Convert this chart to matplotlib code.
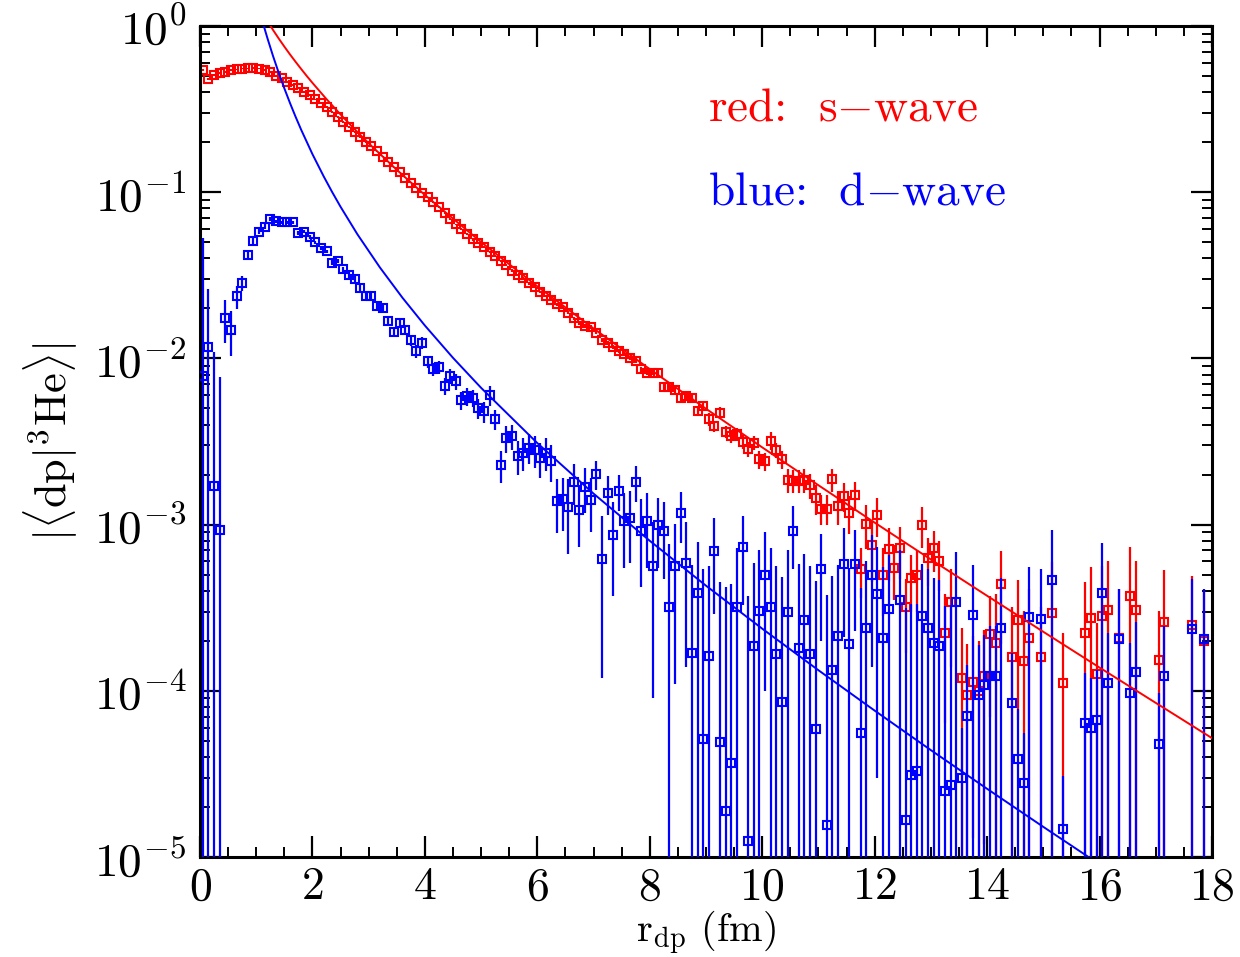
import matplotlib
matplotlib.use("Agg")
import matplotlib.pyplot as plt
import matplotlib.ticker as ticker
import numpy as np

plt.rcParams['mathtext.fontset'] = 'cm'
plt.rcParams['font.family'] = 'serif'
plt.rcParams['font.serif'] = ['cmr10', 'DejaVu Serif']
plt.rcParams['axes.formatter.use_mathtext'] = True

### s-wave (red) data
red_r = [0.05, 0.15, 0.25, 0.35, 0.45, 0.55, 0.65, 0.75, 0.85, 0.95,
         1.05, 1.15, 1.25, 1.35, 1.45, 1.55, 1.65, 1.75, 1.85, 1.95,
         2.05, 2.15, 2.25, 2.35, 2.45, 2.55, 2.65, 2.75, 2.85, 2.95,
         3.05, 3.15, 3.25, 3.35, 3.45, 3.55, 3.65, 3.75, 3.85, 3.95,
         4.05, 4.15, 4.25, 4.35, 4.45, 4.55, 4.65, 4.75, 4.85, 4.95,
         5.05, 5.15, 5.25, 5.35, 5.45, 5.55, 5.65, 5.75, 5.85, 5.95,
         6.05, 6.15, 6.25, 6.35, 6.45, 6.55, 6.65, 6.75, 6.85, 6.95,
         7.05, 7.15, 7.25, 7.35, 7.45, 7.55, 7.65, 7.75, 7.85, 7.95,
         8.05, 8.15, 8.25, 8.35, 8.45, 8.55, 8.65, 8.75, 8.85, 8.95,
         9.05, 9.15, 9.25, 9.35, 9.45, 9.55, 9.65, 9.75, 9.85, 9.95,
         10.05, 10.15, 10.25, 10.35, 10.45, 10.55, 10.65, 10.75, 10.85, 10.95,
         11.05, 11.15, 11.25, 11.35, 11.45, 11.55, 11.65, 11.75, 11.85, 11.95,
         12.05, 12.15, 12.25, 12.35, 12.45, 12.55, 12.65, 12.75, 12.85, 12.95,
         13.05, 13.15, 13.25, 13.35, 13.55, 13.65, 13.75, 13.85, 13.95, 14.05,
         14.15, 14.25, 14.45, 14.55, 14.65, 14.75, 14.95, 15.15, 15.35, 15.75,
         15.85, 15.95, 16.05, 16.15, 16.35, 16.55, 16.65, 17.05, 17.15, 17.65,
         17.85]
red_val = [0.544, 0.478, 0.507, 0.524, 0.531, 0.544, 0.549, 0.554, 0.556, 0.561,
           0.554, 0.544, 0.531, 0.500, 0.484, 0.462, 0.442, 0.422, 0.403, 0.385,
           0.362, 0.343, 0.324, 0.305, 0.284, 0.265, 0.248, 0.231, 0.216, 0.201,
           0.190, 0.176, 0.1635, 0.152, 0.1413, 0.1316, 0.1226, 0.1143, 0.1066, 0.0996,
           0.0930, 0.0870, 0.0813, 0.0752, 0.0690, 0.0640, 0.0598, 0.0560, 0.0520, 0.0497,
           0.0466, 0.0439, 0.0413, 0.0387, 0.0365, 0.0337, 0.0318, 0.0303, 0.0283, 0.0270,
           0.0252, 0.0237, 0.0226, 0.0212, 0.0203, 0.0188, 0.0174, 0.0163, 0.0157, 0.0154,
           0.0143, 0.0129, 0.0124, 0.0117, 0.0111, 0.0107, 0.0101, 0.0097, 0.0086, 0.0082,
           0.0082, 0.0082, 0.0067, 0.0067, 0.0065, 0.0058, 0.0059, 0.0058, 0.0048, 0.0052,
           0.0043, 0.0039, 0.0047, 0.0036, 0.0034, 0.0035, 0.00315, 0.00284, 0.0031, 0.00247,
           0.0024, 0.0032, 0.0028, 0.00247, 0.00185, 0.00184, 0.00184, 0.00185, 0.00173, 0.00144,
           0.00125, 0.00125, 0.00187, 0.0013, 0.00149, 0.00118, 0.0015, 0.00054, 0.00101, 0.00075,
           0.00114, 0.0005, 0.00071, 0.00055, 0.00072, 0.00032, 0.00048, 0.0005, 0.001, 0.00063,
           0.00072, 0.0006, 0.000224, 0.00034, 0.000119, 9.4e-5, 0.000113, 1.0e-4, 0.000122, 0.00022,
           0.000195, 0.00044, 0.000159, 0.000267, 0.000152, 0.000207, 0.000159, 0.000295, 0.000111, 0.000224,
           0.000273, 0.000127, 0.00028, 0.000306, 0.000207, 0.00037, 0.000306, 0.000153, 0.00026, 0.00025,
           0.0002]
red_err = [0.006, 0.006, 0.006, 0.006, 0.006, 0.006, 0.006, 0.006, 0.006, 0.006,
           0.006, 0.006, 0.006, 0.005, 0.005, 0.005, 0.005, 0.005, 0.005, 0.005,
           0.004, 0.004, 0.004, 0.004, 0.004, 0.003, 0.003, 0.003, 0.003, 0.003,
           0.001, 0.001, 0.001, 0.001, 0.001, 0.001, 0.001, 0.001, 0.001, 0.001,
           0.0008, 0.0008, 0.0008, 0.0008, 0.0008, 0.0008, 0.0008, 0.0008, 0.0008, 0.0008,
           0.0006, 0.0006, 0.0006, 0.0006, 0.0006, 0.0006, 0.0006, 0.0006, 0.0006, 0.0006,
           0.0004, 0.0004, 0.0004, 0.0004, 0.0004, 0.0004, 0.0004, 0.0004, 0.0004, 0.0004,
           0.0003, 0.0003, 0.0003, 0.0003, 0.0003, 0.0003, 0.0003, 0.0003, 0.0003, 0.0003,
           0.0003, 0.0003, 0.0003, 0.0003, 0.0003, 0.0003, 0.0003, 0.0003, 0.0003, 0.0003,
           0.0004, 0.0003, 0.0004, 0.0003, 0.0003, 0.0003, 0.0003, 0.0003, 0.0003, 0.0003,
           0.0003, 0.0004, 0.0003, 0.0003, 0.0003, 0.0003, 0.0003, 0.0003, 0.0003, 0.0003,
           0.00025, 0.00025, 0.0003, 0.0003, 0.0003, 0.0003, 0.0003, 0.00018, 0.0003, 0.0003,
           0.0003, 0.00022, 0.00025, 0.0002, 0.00025, 0.00015, 0.00018, 0.0002, 0.00028, 0.0002,
           0.0002, 0.0002, 0.00016, 0.0002, 0.00012, 9.6e-5, 0.0001, 0.0001, 0.00011, 0.00015,
           0.00019, 0.00025, 0.00016, 0.0002, 0.00015, 0.0002, 0.00016, 0.0003, 0.000112, 0.00023,
           0.00028, 0.00013, 0.00028, 0.0003, 0.0002, 0.00036, 0.0003, 0.00015, 0.00027, 0.00024,
           0.0002]

### d-wave (blue) data
blue_r = [0.05, 0.15, 0.25, 0.35, 0.45, 0.55, 0.65, 0.75, 0.85, 0.95,
          1.05, 1.15, 1.25, 1.35, 1.45, 1.55, 1.65, 1.75, 1.85, 1.95,
          2.05, 2.15, 2.25, 2.35, 2.45, 2.55, 2.65, 2.75, 2.85, 2.95,
          3.05, 3.15, 3.25, 3.35, 3.45, 3.55, 3.65, 3.75, 3.85, 3.95,
          4.05, 4.15, 4.25, 4.35, 4.45, 4.55, 4.65, 4.75, 4.85, 4.95,
          5.05, 5.15, 5.25, 5.35, 5.45, 5.55, 5.65, 5.75, 5.85, 5.95,
          6.05, 6.15, 6.25, 6.35, 6.45, 6.55, 6.65, 6.75, 6.85, 6.95,
          7.05, 7.15, 7.25, 7.35, 7.45, 7.55, 7.65, 7.75, 7.85, 7.95,
          8.05, 8.15, 8.25, 8.35, 8.45, 8.55, 8.65, 8.75, 8.85, 8.95,
          9.05, 9.15, 9.25, 9.35, 9.45, 9.55, 9.65, 9.75, 9.85, 9.95,
          10.05, 10.15, 10.25, 10.35, 10.45, 10.55, 10.65, 10.75, 10.85, 10.95,
          11.05, 11.15, 11.25, 11.35, 11.45, 11.55, 11.65, 11.75, 11.85, 11.95,
          12.05, 12.15, 12.25, 12.45, 12.55, 12.65, 12.75, 12.85, 12.95, 13.05,
          13.15, 13.25, 13.35, 13.45, 13.55, 13.65, 13.75, 13.85, 13.95, 14.05,
          14.15, 14.25, 14.45, 14.55, 14.65, 14.75, 14.95, 15.15, 15.35, 15.75,
          15.85, 15.95, 16.05, 16.15, 16.35, 16.55, 16.65, 17.05, 17.15, 17.65,
          17.85]
blue_val = [0.0078, 0.0117, 0.0017, 0.00093, 0.0174, 0.0148, 0.0236, 0.0285, 0.042, 0.051,
            0.058, 0.062, 0.0687, 0.067, 0.066, 0.066, 0.066, 0.057, 0.058, 0.054,
            0.050, 0.046, 0.044, 0.0377, 0.0385, 0.0344, 0.0318, 0.030, 0.0264, 0.0238,
            0.0237, 0.0207, 0.0201, 0.0168, 0.0145, 0.0164, 0.0148, 0.0129, 0.0111, 0.0124,
            0.0096, 0.0086, 0.0089, 0.0068, 0.0078, 0.0073, 0.0056, 0.0059, 0.0058, 0.0050,
            0.0048, 0.0060, 0.0043, 0.00228, 0.0033, 0.0034, 0.0026, 0.0027, 0.0029, 0.0028,
            0.0025, 0.0027, 0.0024, 0.00139, 0.00142, 0.00127, 0.00181, 0.00123, 0.00168, 0.0014,
            0.00201, 0.00062, 0.00155, 0.00087, 0.0016, 0.00105, 0.00109, 0.00181, 0.00092, 0.00105,
            0.00056, 0.001, 0.00092, 0.00032, 0.00056, 0.00118, 0.00059, 0.000168, 0.00039, 5.1e-5,
            0.000162, 0.00069, 4.9e-5, 1.9e-5, 3.7e-5, 0.00032, 0.00073, 1.24e-5, 0.000186, 0.000303,
            0.0005, 0.00032, 0.000167, 8.6e-5, 0.0003, 0.00092, 0.00018, 0.000267, 0.000167, 5.9e-5,
            0.00054, 1.56e-5, 0.000133, 0.000214, 0.00058, 0.00019, 0.00058, 5.6e-5, 0.00024, 0.0005,
            0.00038, 0.000207, 0.00031, 0.00035, 1.67e-5, 3.1e-5, 3.3e-5, 0.00028, 0.00024, 0.000194,
            0.000186, 2.5e-5, 2.7e-5, 0.00034, 3.0e-5, 7.1e-5, 0.000286, 9.4e-5, 0.000108, 0.000123,
            0.000123, 0.00024, 8.5e-5, 3.9e-5, 2.8e-5, 0.000277, 0.00027, 0.000464, 1.47e-5, 6.4e-5,
            6.0e-5, 6.7e-5, 0.00039, 0.000111, 0.000204, 9.7e-5, 0.000129, 4.8e-5, 0.000123, 0.000234,
            0.000204]
blue_err = [0.045, 0.0145, 0.0092, 0.0068, 0.005, 0.0045, 0.0037, 0.003, 0.0025, 0.002,
            0.002, 0.002, 0.002, 0.0015, 0.0015, 0.0015, 0.0015, 0.0015, 0.0015, 0.0015,
            0.0012, 0.0012, 0.0012, 0.0012, 0.0012, 0.0012, 0.0012, 0.0012, 0.0012, 0.0012,
            0.001, 0.001, 0.001, 0.001, 0.001, 0.001, 0.001, 0.001, 0.001, 0.001,
            0.0008, 0.0008, 0.0008, 0.0008, 0.0008, 0.0008, 0.0007, 0.0007, 0.0007, 0.0007,
            0.0007, 0.0008, 0.0006, 0.0005, 0.0006, 0.0006, 0.0006, 0.0006, 0.0006, 0.0006,
            0.0006, 0.0006, 0.0006, 0.0005, 0.0005, 0.0006, 0.0005, 0.0005, 0.0005, 0.0005,
            0.0004, 0.0005, 0.0004, 0.0005, 0.0004, 0.0005, 0.0005, 0.00045, 0.0005, 0.0005,
            0.00047, 0.00045, 0.00045, 0.00044, 0.00045, 0.0004, 0.00045, 0.0004, 0.0004, 0.00049,
            0.0004, 0.0004, 0.0004, 0.0004, 0.0004, 0.0004, 0.0004, 0.00036, 0.0004, 0.0004,
            0.0004, 0.0004, 0.0004, 0.0004, 0.0004, 0.00038, 0.0004, 0.0004, 0.0004, 0.0004,
            0.00034, 0.00036, 0.00036, 0.00036, 0.00037, 0.00036, 0.00035, 0.00036, 0.00036, 0.00036,
            0.00035, 0.00035, 0.00035, 0.00035, 0.0003, 0.0003, 0.0003, 0.0003, 0.0003, 0.00028,
            0.00028, 0.0003, 0.0003, 0.00034, 3.0e-5, 7.1e-5, 0.000286, 9.4e-5, 0.000108, 0.000123,
            0.000123, 0.00024, 8.5e-5, 3.9e-5, 2.8e-5, 0.000277, 0.00027, 0.000464, 1.6e-5, 6.4e-5,
            6.0e-5, 6.7e-5, 0.00039, 0.000111, 0.000204, 9.7e-5, 0.000129, 4.9e-5, 0.000123, 0.000234,
            0.000204]

### asymptotic curves
red_fit_r = [1.2, 1.25, 1.3, 1.4, 1.5, 1.6, 1.7, 1.8, 1.9, 2.0, 2.25, 2.5, 2.75, 3.0, 3.5,
             4, 5, 6, 7, 8, 9, 10, 11, 12, 13, 14, 15, 16, 17, 18]
red_fit_val = [1.069, 1.005, 0.9456, 0.841, 0.752, 0.675, 0.609, 0.551, 0.4997, 0.455, 0.363,
               0.2935, 0.2395, 0.197, 0.1364, 0.0962, 0.0501, 0.02715, 0.01514, 0.00862,
               0.00498, 0.002916, 0.001725, 0.001028, 0.000617, 0.000373, 0.0002265,
               0.000138, 8.46e-5, 5.19e-5]
blue_fit_r = [1.12, 1.15, 1.2, 1.3, 1.4, 1.5, 1.6, 1.7, 1.8, 2.0, 2.2, 2.35, 2.5, 2.8, 3.2,
              3.6, 4.0, 4.5, 5, 6, 7, 8, 9, 10, 11, 12, 13, 14, 15, 16]
blue_fit_val = [1.042, 0.961, 0.843, 0.658, 0.523, 0.4217, 0.3444, 0.2844, 0.2373, 0.1694,
                0.1245, 0.1003, 0.0817, 0.0558, 0.03525, 0.0232, 0.01577, 0.01008, 0.00665,
                0.003094, 0.001536, 0.000799, 0.000429, 0.0002365, 0.000133, 7.6e-5,
                4.395e-5, 2.572e-5, 1.518e-5, 9.03e-6]

fig = plt.figure(figsize=(12.4, 9.57), dpi=100)
ax = fig.add_axes([0.1613, 0.1045, 0.8161, 0.8683])
ax.set_yscale('log')

ax.errorbar(red_r, red_val, yerr=red_err, fmt='s', color='red', mfc='none', mec='red',
            ms=5.8, mew=1.5, elinewidth=1.6, capsize=0, zorder=2)
ax.errorbar(blue_r, blue_val, yerr=blue_err, fmt='s', color='blue', mfc='none', mec='blue',
            ms=5.8, mew=1.5, elinewidth=1.6, capsize=0, zorder=3)
ax.plot(red_fit_r, red_fit_val, color='red', lw=1.4, zorder=4)
ax.plot(blue_fit_r, blue_fit_val, color='blue', lw=1.4, zorder=4)

ax.set_xlim(0, 18)
ax.set_ylim(1e-5, 1)

ax.xaxis.set_major_locator(ticker.MultipleLocator(2))
ax.xaxis.set_minor_locator(ticker.MultipleLocator(0.5))
ax.yaxis.set_major_locator(ticker.LogLocator(base=10, numticks=10))
ax.yaxis.set_minor_locator(ticker.LogLocator(base=10, subs=np.arange(2, 10), numticks=20))
ax.yaxis.set_minor_formatter(ticker.NullFormatter())
ax.yaxis.set_major_formatter(ticker.FuncFormatter(lambda v, p: r'$10^{%d}$' % round(np.log10(v))))

ax.tick_params(which='both', direction='in', top=True, right=True)
ax.tick_params(which='major', length=15, width=1.6, pad=10)
ax.tick_params(which='minor', length=7.5, width=1.4)
ax.tick_params(axis='x', labelsize=33, pad=7)
ax.tick_params(axis='y', labelsize=34)
for s in ax.spines.values():
    s.set_linewidth(2.2)

ax.set_xlabel(r'r$_{\rm dp}$ (fm)', fontsize=29, labelpad=0)
ax.set_ylabel(r'$|\langle \mathrm{dp}|^{3}\mathrm{He}\rangle|$', fontsize=32, labelpad=10)

ax.text(0.502, 0.90, r'red:  s$-$wave', color='red', fontsize=34,
        transform=ax.transAxes, va='center', ha='left')
ax.text(0.502, 0.80, r'blue:  d$-$wave', color='blue', fontsize=34,
        transform=ax.transAxes, va='center', ha='left')

plt.savefig('out.png', dpi=100)
